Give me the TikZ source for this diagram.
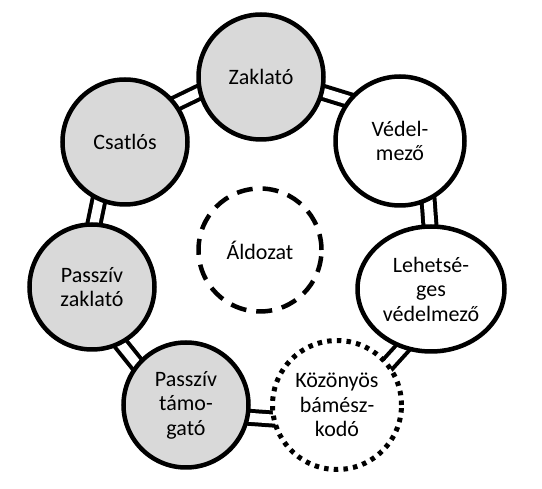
\documentclass[tikz,border=0pt]{standalone}
\usepackage{fontspec}
\setmainfont{Carlito}
\usetikzlibrary{shapes.geometric,backgrounds}
\definecolor{nodegray}{RGB}{217,217,217}
\begin{document}
\begin{tikzpicture}[x=1pt,y=-1pt,
  role/.style={circle, draw=black, line width=4.5pt, inner sep=0pt, minimum size=125pt, align=center, font=\fontsize{22}{24.5}\selectfont},
  active/.style={role, fill=nodegray},
  helper/.style={role, fill=white},
  conn/.style={draw=black, line width=4pt, double=white, double distance=9pt, shorten <=-8pt, shorten >=-8pt}]
\useasboundingbox (0,0) rectangle (542,489);
\node[active] (zak) at (261,77) {Zaklató};
\node[helper, minimum size=129pt] (ved) at (400,141) {Védel-\\mező};
\node[helper, ellipse, minimum width=147pt, minimum height=125pt] (leh) at (431,289) {Lehetsé-\\ges\\védelmező};
\node[role, fill=white, line width=5pt, dash pattern=on 4.5pt off 5.2pt, minimum size=129pt] (koz) at (337,405) {Közönyös\\bámész-\\kodó};
\node[active] (ptam) at (186,405) {Passzív\\támo-\\gató};
\node[active] (pzak) at (92,287) {Passzív\\zaklató};
\node[active] (csat) at (125,142) {Csatlós};
\node[role, fill=white, dash pattern=on 16pt off 10pt, minimum size=123pt] (ald) at (260,250) {Áldozat};
\begin{pgfonlayer}{background}
\draw[conn] (zak.-14) -- (ved.142.57);
\draw[conn] (ved.-65.43) -- (leh.91.14);
\draw[conn] (leh.-116.86) -- (koz.39.71);
\draw[conn] (koz.-168.29) -- (ptam.-11.71);
\draw[conn] (ptam.140.29) -- (pzak.-63.14);
\draw[conn] (pzak.88.86) -- (csat.-114.57);
\draw[conn] (csat.37.43) -- (zak.-166);
\end{pgfonlayer}
\end{tikzpicture}
\end{document}
